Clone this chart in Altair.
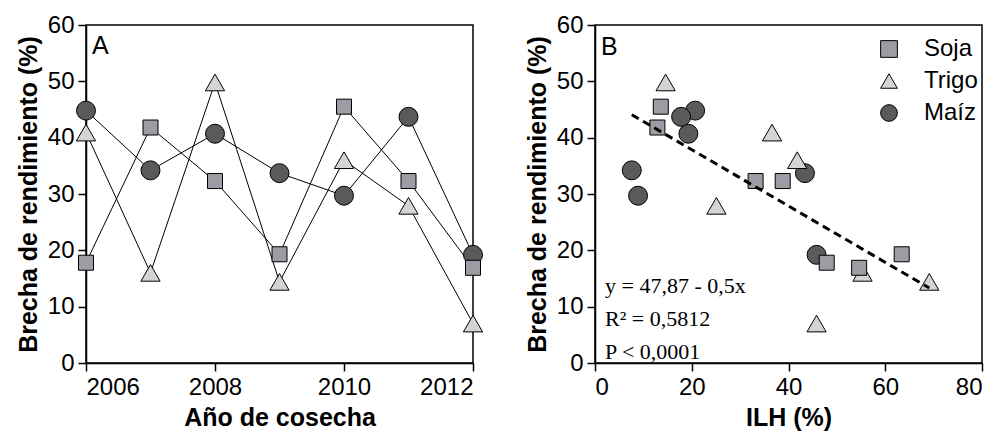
import altair as alt
import pandas as pd

# ---- data ----
years = [2006, 2007, 2008, 2009, 2010, 2011, 2012]
soja = [17.8, 41.8, 32.3, 19.3, 45.5, 32.3, 16.9]
trigo = [40.9, 16.0, 49.8, 14.4, 36.0, 27.9, 7.0]
maiz = [44.8, 34.2, 40.7, 33.7, 29.7, 43.7, 19.2]
ilh_soja = [47.9, 12.9, 33.2, 63.4, 13.6, 38.8, 54.6]
ilh_trigo = [36.6, 55.3, 14.6, 69.1, 41.8, 25.1, 45.8]
ilh_maiz = [20.7, 7.6, 19.3, 43.4, 8.9, 17.8, 45.8]

series = ["Soja", "Trigo", "Maíz"]
fills = ["#9d9ca4", "#d4d4d4", "#5a5a5a"]
strokes = ["black", "black", "black"]
shapes = ["square", "triangle-up", "circle"]
sizes = {"Soja": 225, "Trigo": 370, "Maíz": 360}

fit_x = [7.6, 69.1]
fit_y = [44.07, 13.32]
annot = ["y = 47,87 - 0,5x", "R² = 0,5812", "P < 0,0001"]

x_ticks_a = [2006, 2008, 2010, 2012]
x_ticks_b = [0, 20, 40, 60, 80]
y_ticks = [0, 10, 20, 30, 40, 50, 60]

# ---- long table ----
rows = []
for name, vals, ilh in [("Maíz", maiz, ilh_maiz), ("Trigo", trigo, ilh_trigo), ("Soja", soja, ilh_soja)]:
    for yr, v, i in zip(years, vals, ilh):
        rows.append({"year": yr, "value": v, "serie": name, "ilh": i})
df = pd.DataFrame(rows)
fit_df = pd.DataFrame({"ilh": fit_x, "value": fit_y})

W, H = 387, 338
draw_order = ["Maíz", "Trigo", "Soja"]

y_enc = alt.Y("value:Q", scale=alt.Scale(domain=[0, 60], nice=False),
              axis=alt.Axis(values=y_ticks, title="Brecha de rendimiento (%)"))


def point_layers(x_enc, legend):
    out = []
    for name in draw_order:
        out.append(
            alt.Chart(df).transform_filter(alt.datum.serie == name).mark_point(
                filled=True, opacity=1, strokeWidth=1, size=sizes[name]
            ).encode(
                x=x_enc, y=y_enc,
                fill=alt.Fill("serie:N", scale=alt.Scale(domain=series, range=fills), legend=legend, title=None),
                stroke=alt.Stroke("serie:N", scale=alt.Scale(domain=series, range=strokes), legend=legend, title=None),
                shape=alt.Shape("serie:N", scale=alt.Scale(domain=series, range=shapes), legend=legend, title=None),
            )
        )
    return out


# ---- panel A ----
xa = alt.X("year:Q", scale=alt.Scale(domain=[2006, 2012], nice=False, zero=False),
           axis=alt.Axis(values=x_ticks_a, format="d", title="Año de cosecha"))
lines_a = alt.Chart(df).mark_line(color="black", strokeWidth=1).encode(x=xa, y=y_enc, detail="serie:N")
lab_a = alt.Chart(pd.DataFrame({"t": ["A"]})).mark_text(
    align="left", baseline="alphabetic", fontSize=25, font="Liberation Sans", color="black"
).encode(x=alt.value(6), y=alt.value(29), text="t:N")
panel_a = alt.layer(lines_a, *point_layers(xa, None), lab_a).properties(width=W, height=H)

# ---- panel B ----
xb = alt.X("ilh:Q", scale=alt.Scale(domain=[0, 80], nice=False),
           axis=alt.Axis(values=x_ticks_b, title="ILH (%)"))
legend_b = alt.Legend(
    orient="none", legendX=282, legendY=12, padding=0,
    labelFontSize=24, labelFont="Liberation Sans", labelColor="black",
    labelOffset=23, symbolSize=280, symbolStrokeColor="black",
    symbolStrokeWidth=1, symbolOpacity=1, rowPadding=8,
)
fit_b = alt.Chart(fit_df).mark_line(color="black", strokeWidth=3, strokeDash=[8, 5]).encode(
    x=xb, y=y_enc)
lab_b = alt.Chart(pd.DataFrame({"t": ["B"]})).mark_text(
    align="left", baseline="alphabetic", fontSize=25, font="Liberation Sans", color="black"
).encode(x=alt.value(6), y=alt.value(30), text="t:N")
ann_layers = []
for txt, ypos in zip(annot, [268, 301, 334]):
    ann_layers.append(alt.Chart(pd.DataFrame({"t": [txt]})).mark_text(
        align="left", baseline="alphabetic", fontSize=22, font="Liberation Serif", color="black"
    ).encode(x=alt.value(10), y=alt.value(ypos), text="t:N"))
panel_b = alt.layer(*point_layers(xb, legend_b), fit_b, lab_b, *ann_layers).properties(width=W, height=H)

chart = alt.hconcat(panel_a, panel_b, spacing=122, bounds="flush").resolve_scale(
    fill="independent", shape="independent", stroke="independent"
).resolve_legend(fill="independent", shape="independent", stroke="independent").properties(
    padding={"left": 15, "top": 12, "right": 5, "bottom": 5}, background="white"
).configure_axis(
    labelFont="Liberation Sans", labelFontSize=24, labelColor="black", labelPadding=4,
    titleFont="Liberation Sans", titleFontSize=25, titleFontWeight="bold", titleColor="black",
    titlePadding=6, domainColor="black", domainWidth=1.5, tickColor="black", tickWidth=1.5,
    tickSize=8, grid=False
).configure_legend(
    labelFontSize=24, labelFont="Liberation Sans", labelColor="black",
    symbolStrokeColor="black", symbolStrokeWidth=1
).configure_view(stroke="black", strokeWidth=1.5)

chart.save("out.html", embed_options={"renderer": "svg", "actions": False})
